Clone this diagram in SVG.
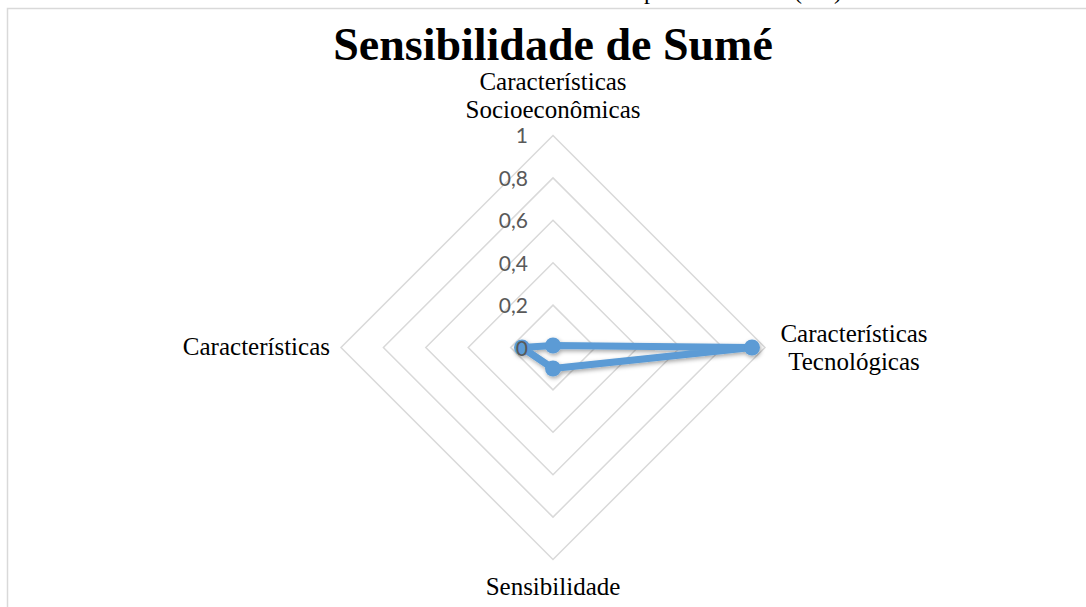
<svg xmlns="http://www.w3.org/2000/svg" width="1086" height="607" viewBox="0 0 1086 607">
<style>
.serif{font-family:"Liberation Serif","Times New Roman",serif;fill:#000}
.cat{font-size:25px}
.val{font-family:Lato,"Open Sans","Liberation Sans",sans-serif;font-size:21px;fill:#595959;text-anchor:end}
.grid{fill:none;stroke:#D9D9D9;stroke-width:1.5}
.series{fill:none;stroke:#5B9BD5;stroke-width:7;stroke-linejoin:round}
.mk{fill:#5B9BD5}
</style>
<defs>
<filter id="sh" x="-20%" y="-50%" width="140%" height="200%">
<feDropShadow dx="1" dy="2" stdDeviation="2" flood-color="#000" flood-opacity="0.35"/>
</filter>
</defs>
<rect x="0" y="0" width="1086" height="607" fill="#fff"/>
<g id="cut-text" class="serif" font-size="24">
<text x="650" y="-1" text-anchor="middle">p</text>
<text x="798" y="-1" text-anchor="middle">(</text>
<text x="838" y="-1" text-anchor="middle">)</text>
</g>
<rect id="chart-border" x="7.5" y="8.5" width="1100" height="640" fill="#fff" stroke="#D9D9D9" stroke-width="1.5"/>
<g id="title"><text class="serif" x="553" y="60" font-size="46" font-weight="bold" text-anchor="middle">Sensibilidade de Sumé</text></g>
<g id="grid">
<polygon class="grid" points="553,135.5 765,347.5 553,559.5 341,347.5"/>
<polygon class="grid" points="553,177.9 722.6,347.5 553,517.1 383.4,347.5"/>
<polygon class="grid" points="553,220.3 680.2,347.5 553,474.7 425.8,347.5"/>
<polygon class="grid" points="553,262.7 637.8,347.5 553,432.3 468.2,347.5"/>
<polygon class="grid" points="553,305.1 595.4,347.5 553,389.9 510.6,347.5"/>
</g>
<g id="series" filter="url(#sh)">
<polygon class="series" points="553,345.5 752,347.5 553,368.5 522,347.5"/>
<circle class="mk" cx="553" cy="345.5" r="8"/>
<circle class="mk" cx="752" cy="347.5" r="8"/>
<circle class="mk" cx="553" cy="368.5" r="8"/>
<circle class="mk" cx="522" cy="347.5" r="8"/>
</g>
<g id="value-labels">
<text class="val" x="528" y="143">1</text>
<text class="val" x="528" y="185.5">0,8</text>
<text class="val" x="528" y="228">0,6</text>
<text class="val" x="528" y="270.5">0,4</text>
<text class="val" x="528" y="313">0,2</text>
<text class="val" x="528" y="355.5">0</text>
</g>
<g id="axis-socio" class="serif cat" text-anchor="middle">
<text x="553" y="90">Características</text>
<text x="553" y="118">Socioeconômicas</text>
</g>
<g id="axis-tec" class="serif cat" text-anchor="middle">
<text x="854" y="342">Características</text>
<text x="854" y="370">Tecnológicas</text>
</g>
<g id="axis-sens" class="serif cat" text-anchor="middle">
<text x="553" y="595">Sensibilidade</text>
</g>
<g id="axis-car" class="serif cat" text-anchor="end">
<text x="330" y="355">Características</text>
</g>
</svg>
